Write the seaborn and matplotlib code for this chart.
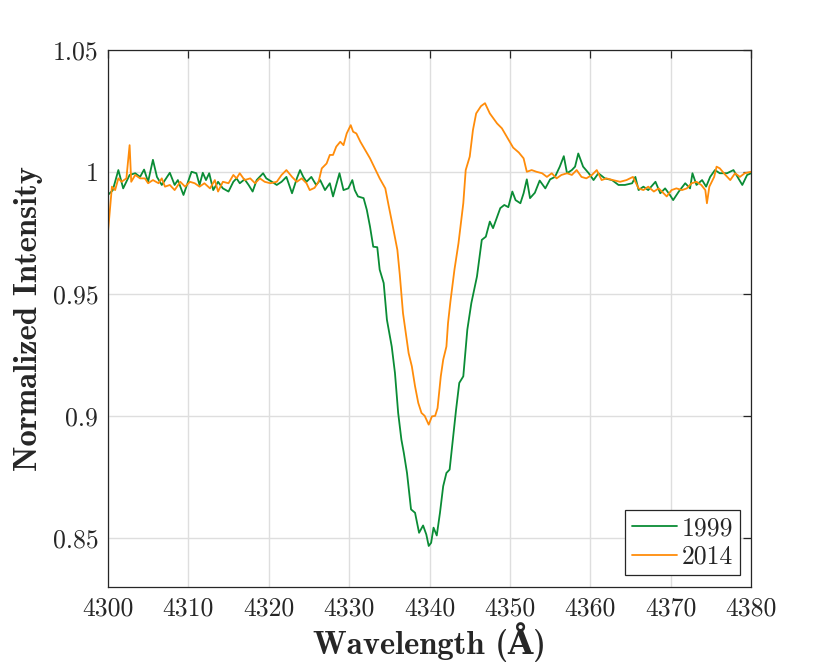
import matplotlib
matplotlib.use("Agg")
import matplotlib.pyplot as plt
import seaborn as sns
import pandas as pd

wl_1999 = [4300.0, 4300.6, 4301.3, 4301.9, 4302.7, 4303.4, 4304.0, 4304.5, 4305.0, 4305.6, 4306.1, 4306.7,
           4307.7, 4308.3, 4308.7, 4309.4, 4310.4, 4311.0, 4311.4, 4311.8, 4312.2, 4312.6, 4313.1, 4313.7,
           4314.3, 4315.0, 4315.6, 4316.0, 4316.4, 4317.0, 4317.5, 4318.0, 4318.5, 4319.3, 4319.7, 4320.4,
           4321.0, 4321.6, 4322.2, 4322.9, 4323.5, 4323.9, 4324.3, 4324.7, 4325.3, 4325.9, 4326.4, 4327.0,
           4327.6, 4328.0, 4328.8, 4329.3, 4329.9, 4330.4, 4330.7, 4331.1, 4331.8, 4332.2, 4332.6, 4333.0,
           4333.5, 4333.8, 4334.3, 4334.7, 4335.3, 4335.7, 4336.1, 4336.5, 4336.8, 4337.2, 4337.7, 4338.2,
           4338.7, 4339.2, 4339.6, 4339.9, 4340.2, 4340.5, 4340.9, 4341.3, 4341.7, 4342.1, 4342.5, 4342.9,
           4343.3, 4343.7, 4344.2, 4344.7, 4345.2, 4345.9, 4346.5, 4347.0, 4347.5, 4347.9, 4348.8, 4349.3,
           4349.8, 4350.3, 4350.7, 4351.3, 4351.7, 4352.1, 4352.5, 4353.1, 4353.7, 4354.4, 4355.0, 4355.6,
           4356.2, 4356.7, 4357.1, 4357.7, 4358.1, 4358.5, 4359.1, 4359.8, 4360.4, 4361.0, 4361.8, 4362.7,
           4363.5, 4364.3, 4365.2, 4365.6, 4366.0, 4366.6, 4367.2, 4368.1, 4368.7, 4369.3, 4369.9, 4370.3,
           4371.0, 4371.8, 4372.4, 4372.7, 4373.2, 4373.9, 4374.4, 4374.9, 4375.5, 4376.1, 4377.0, 4377.8,
           4378.3, 4378.9, 4379.5, 4380.0]
int_1999 = [0.9906, 0.9925, 1.0008, 0.9933, 0.9988, 0.9995, 0.9980, 1.0010, 0.9960, 1.0050, 0.9980, 0.9947,
            0.9997, 0.9947, 0.9967, 0.9906, 1.0001, 0.9995, 0.9947, 0.9997, 0.9967, 0.9995, 0.9926, 0.9960,
            0.9933, 0.9920, 0.9960, 0.9974, 0.9954, 0.9970, 0.9947, 0.9920, 0.9967, 0.9995, 0.9974, 0.9960,
            0.9947, 0.9960, 0.9980, 0.9913, 0.9974, 1.0008, 0.9980, 0.9960, 0.9980, 0.9947, 0.9967, 0.9926,
            0.9954, 0.9900, 0.9995, 0.9926, 0.9933, 0.9967, 0.9926, 0.9900, 0.9893, 0.9845, 0.9776, 0.9694,
            0.9692, 0.9600, 0.9545, 0.9395, 0.9285, 0.9177, 0.9013, 0.8904, 0.8850, 0.8767, 0.8618, 0.8604,
            0.8522, 0.8552, 0.8515, 0.8468, 0.8481, 0.8543, 0.8511, 0.8604, 0.8713, 0.8767, 0.8781, 0.8904,
            0.9026, 0.9136, 0.9163, 0.9354, 0.9463, 0.9572, 0.9722, 0.9735, 0.9797, 0.9770, 0.9852, 0.9865,
            0.9856, 0.9920, 0.9885, 0.9872, 0.9913, 0.9970, 0.9893, 0.9915, 0.9965, 0.9933, 0.9970, 0.9980,
            1.0022, 1.0065, 0.9995, 1.0008, 1.0022, 1.0076, 1.0022, 0.9995, 0.9967, 0.9995, 0.9974, 0.9967,
            0.9947, 0.9947, 0.9954, 0.9980, 0.9926, 0.9940, 0.9926, 0.9960, 0.9913, 0.9933, 0.9906, 0.9885,
            0.9920, 0.9954, 0.9933, 0.9995, 0.9947, 0.9967, 0.9940, 0.9980, 1.0008, 0.9995, 0.9995, 1.0008,
            0.9980, 0.9947, 0.9988, 0.9995]

wl_2014 = [4300.0, 4300.5, 4300.9, 4301.3, 4301.7, 4302.3, 4302.7, 4302.9, 4303.4, 4304.0, 4304.6, 4305.0,
           4305.6, 4306.3, 4306.7, 4307.1, 4307.7, 4308.3, 4309.0, 4309.6, 4310.2, 4310.8, 4311.4, 4312.0,
           4312.7, 4313.3, 4313.7, 4314.3, 4315.0, 4315.6, 4316.0, 4316.4, 4317.0, 4317.7, 4318.3, 4318.9,
           4319.5, 4320.2, 4321.0, 4321.6, 4322.2, 4322.9, 4323.5, 4324.1, 4324.7, 4325.1, 4325.7, 4326.2,
           4326.6, 4327.2, 4327.6, 4328.0, 4328.4, 4328.9, 4329.3, 4329.7, 4330.2, 4330.5, 4330.9, 4331.4,
           4332.0, 4332.6, 4333.2, 4333.8, 4334.5, 4334.9, 4335.4, 4336.0, 4336.3, 4336.7, 4337.4, 4337.8,
           4338.2, 4338.6, 4339.0, 4339.4, 4339.9, 4340.3, 4340.7, 4341.0, 4341.4, 4341.7, 4342.1, 4342.3,
           4342.6, 4343.1, 4343.6, 4344.2, 4344.5, 4345.0, 4345.4, 4345.8, 4346.4, 4346.9, 4347.5, 4348.4,
           4349.0, 4349.6, 4350.4, 4351.1, 4351.7, 4352.1, 4352.7, 4353.3, 4354.0, 4354.6, 4355.2, 4355.8,
           4356.4, 4357.1, 4357.7, 4358.3, 4358.9, 4359.5, 4360.2, 4360.8, 4361.4, 4362.0, 4362.8, 4363.7,
           4364.5, 4365.3, 4366.0, 4366.6, 4367.2, 4367.9, 4368.5, 4369.1, 4369.5, 4370.1, 4370.7, 4371.4,
           4372.0, 4372.6, 4373.2, 4373.8, 4374.3, 4374.5, 4374.8, 4375.4, 4375.7, 4376.1, 4376.8, 4377.4,
           4378.0, 4378.6, 4379.2, 4380.0]
int_2014 = [0.9750, 0.9940, 0.9926, 0.9974, 0.9960, 0.9974, 1.0110, 0.9960, 0.9988, 0.9974, 0.9974, 0.9954,
            0.9967, 0.9954, 0.9974, 0.9940, 0.9947, 0.9926, 0.9960, 0.9940, 0.9960, 0.9954, 0.9940, 0.9954,
            0.9933, 0.9967, 0.9920, 0.9960, 0.9954, 0.9988, 0.9974, 0.9995, 0.9967, 0.9974, 0.9954, 0.9974,
            0.9960, 0.9954, 0.9960, 0.9988, 1.0008, 0.9980, 0.9960, 0.9974, 0.9954, 0.9926, 0.9935, 0.9960,
            1.0015, 1.0035, 1.0070, 1.0070, 1.0104, 1.0124, 1.0110, 1.0158, 1.0192, 1.0165, 1.0158, 1.0124,
            1.0090, 1.0056, 1.0015, 0.9974, 0.9933, 0.9865, 0.9783, 0.9681, 0.9580, 0.9422, 0.9258, 0.9204,
            0.9122, 0.9054, 0.9013, 0.9001, 0.8965, 0.8999, 0.9001, 0.9033, 0.9163, 0.9231, 0.9285, 0.9381,
            0.9470, 0.9600, 0.9708, 0.9872, 1.0008, 1.0063, 1.0172, 1.0240, 1.0270, 1.0282, 1.0240, 1.0199,
            1.0179, 1.0145, 1.0100, 1.0080, 1.0056, 1.0001, 1.0008, 1.0001, 0.9995, 0.9980, 0.9995, 0.9974,
            0.9988, 0.9995, 0.9988, 1.0008, 0.9980, 0.9974, 0.9988, 1.0008, 0.9967, 0.9974, 0.9967, 0.9960,
            0.9967, 0.9980, 0.9933, 0.9926, 0.9940, 0.9920, 0.9933, 0.9913, 0.9900, 0.9926, 0.9933, 0.9926,
            0.9933, 0.9954, 0.9960, 0.9947, 0.9926, 0.9872, 0.9940, 0.9980, 1.0022, 1.0015, 0.9988, 0.9967,
            0.9995, 0.9980, 0.9995, 1.0001]

x_ticks = [4300, 4310, 4320, 4330, 4340, 4350, 4360, 4370, 4380]
y_ticks = [0.85, 0.9, 0.95, 1.0, 1.05]
y_tick_labels = ["0.85", "0.9", "0.95", "1", "1.05"]
series_labels = ["1999", "2014"]

sns.set_style("white")
plt.rcParams['font.family'] = ['cmr10', 'DejaVu Serif']
plt.rcParams['axes.formatter.use_mathtext'] = True

fig = plt.figure(figsize=(8.3, 6.69), dpi=100)
ax = fig.add_axes([0.130, 0.1226, 0.775, 0.8027])

df1 = pd.DataFrame({"wl": wl_1999, "I": int_1999})
df2 = pd.DataFrame({"wl": wl_2014, "I": int_2014})
sns.lineplot(data=df1, x="wl", y="I", ax=ax, color="#0a8c35", lw=1.3, label=series_labels[0],
             sort=False, estimator=None)
sns.lineplot(data=df2, x="wl", y="I", ax=ax, color="#ff8c0a", lw=1.3, label=series_labels[1],
             sort=False, estimator=None)

ax.set_xlim(4300, 4380)
ax.set_ylim(0.83, 1.05)
ax.set_xticks(x_ticks)
ax.set_xticklabels([str(t) for t in x_ticks])
ax.set_yticks(y_ticks)
ax.set_yticklabels(y_tick_labels)
ax.grid(True, color="#dedede", lw=1)
ax.set_axisbelow(True)
for s in ax.spines.values():
    s.set_color("#262626")
    s.set_linewidth(0.9)
ax.tick_params(direction="in", length=6, width=0.9, color="#262626", top=True, right=True,
               labelsize=18.5, labelcolor="#262626", pad=7)

label_font = dict(family=['cmb10', 'DejaVu Serif'], fontweight='bold', fontsize=23.5, color="#262626")
ax.set_xlabel("Wavelength (Å)", labelpad=1, **label_font)
ax.set_ylabel("Normalized Intensity", labelpad=7, **label_font)

leg = ax.legend(loc="lower right", fontsize=18.5, frameon=True, fancybox=False, framealpha=1,
                edgecolor="#262626", handlelength=1.75, handletextpad=0.2, borderpad=0.25,
                labelspacing=0.2, borderaxespad=0.45)
leg.get_frame().set_linewidth(0.9)

fig.savefig("out.png", dpi=100)
